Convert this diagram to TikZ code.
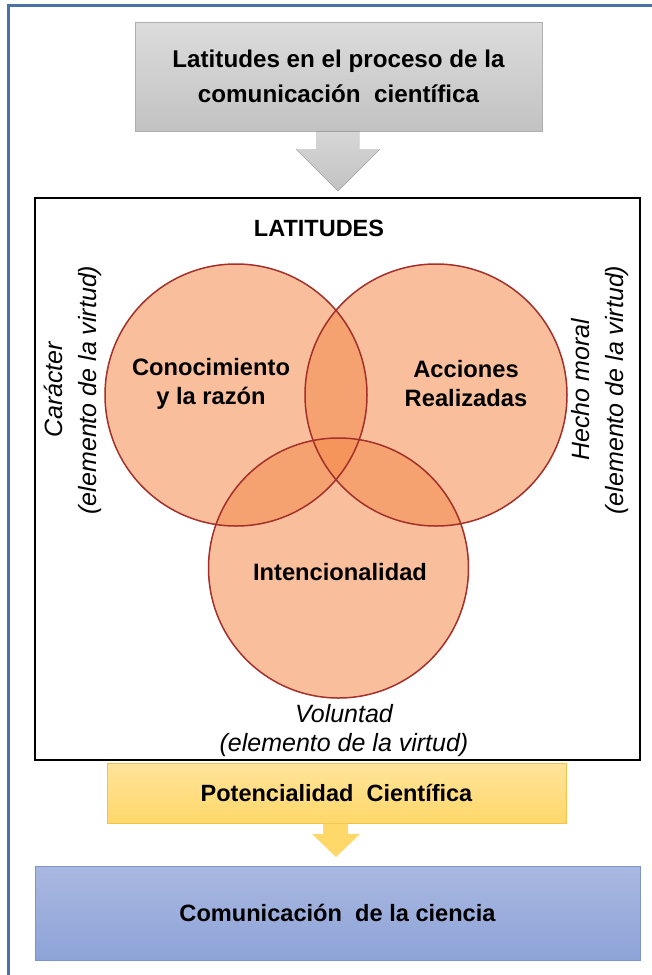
\documentclass[tikz,border=0pt]{standalone}
\usepackage{fontspec}
\setmainfont{Liberation Sans}
\definecolor{framec}{HTML}{4A72A8}
\definecolor{circfill}{HTML}{F58B4C}
\definecolor{circline}{HTML}{A3302A}
\definecolor{grayA}{HTML}{DCDCDC}
\definecolor{grayB}{HTML}{C2C2C2}
\definecolor{yelA}{HTML}{FFE39A}
\definecolor{yelB}{HTML}{FFD86A}
\definecolor{yelline}{HTML}{F2C24A}
\definecolor{bluA}{HTML}{AAB8E0}
\definecolor{bluB}{HTML}{8DA3D8}
\definecolor{bluline}{HTML}{7A95CE}
\begin{document}
\begin{tikzpicture}[x=1pt,y=-1pt,
  graybox/.style={rectangle, draw=grayB!90!black, line width=0.6pt, top color=grayA, bottom color=grayB, align=center, font=\fontsize{24.2}{35}\selectfont\bfseries},
  yelbox/.style={rectangle, draw=yelline, line width=0.8pt, top color=yelA, bottom color=yelB, align=center, font=\fontsize{23.5}{26}\selectfont\bfseries},
  blubox/.style={rectangle, draw=bluline, line width=0.8pt, top color=bluA, bottom color=bluB, align=center, font=\fontsize{23.6}{26}\selectfont\bfseries},
  venn/.style={circle, minimum size=#1, inner sep=0pt, fill=circfill, fill opacity=0.55},
  vennline/.style={circle, minimum size=#1, inner sep=0pt, draw=circline, line width=1.5pt},
  vtext/.style={align=center, font=\fontsize{23.7}{29}\selectfont\bfseries},
  itext/.style={align=center, font=\fontsize{25}{30}\selectfont\itshape},
]
\useasboundingbox (0,0) rectangle (652,975);
\fill[white] (0,0) rectangle (652,975);
% outer frame
\draw[framec, line width=3.5pt] (8.5,975) -- (8.5,5.5) -- (652,5.5);

% top box
\node[graybox, minimum width=407pt, minimum height=109pt] (top) at (338.5,76.5)
  {Latitudes en el proceso de la\\comunicación\ \ científica};
\fill[top color=grayA!80!grayB, bottom color=grayB] (316,131.3) -- (359,131.3) -- (359,149) -- (380,149) -- (338,191) -- (296,149) -- (316,149) -- cycle;

% main box
\node[draw=black, line width=2pt, minimum width=605pt, minimum height=562pt, inner sep=0pt] (main) at (337.5,479) {};
\node[font=\fontsize{23.5}{26}\selectfont\bfseries] (lat) at (319,228) {LATITUDES};

% Venn circles
\node[venn=262pt] (cA) at (236,395) {};
\node[venn=262pt] (cB) at (436,395) {};
\node[venn=260pt] (cC) at (338.5,568) {};
\node[vennline=262pt] at (cA) {};
\node[vennline=262pt] at (cB) {};
\node[vennline=260pt] at (cC) {};
\node[vtext] (tA) at (211,384) {Conocimiento\\y la razón};
\node[vtext] (tB) at (466,384) {Acciones\\Realizadas};
\node[vtext] (tC) at (340,572) {Intencionalidad};

% side labels
\node[itext, rotate=90, font=\fontsize{25}{34}\selectfont\itshape] (lCar) at (73,390) {Carácter\\(elemento de la virtud)};
\node[itext, rotate=90, font=\fontsize{25}{34}\selectfont\itshape] (lHec) at (600,390) {Hecho moral\\(elemento de la virtud)};
\node[itext, font=\fontsize{25}{29}\selectfont\itshape] (lVol) at (344,731) {Voluntad\\(elemento de la virtud)};

% potencialidad
\node[yelbox, minimum width=459pt, minimum height=60pt] (pot) at (336.5,793) {Potencialidad\ \ Científica};
\fill[yelB] (323,823.5) -- (348,823.5) -- (348,834) -- (360,834) -- (336,857) -- (312,834) -- (323,834) -- cycle;

% comunicacion
\node[blubox, minimum width=605pt, minimum height=94pt] (com) at (337.5,913) {Comunicación\ \ de la ciencia};
\end{tikzpicture}
\end{document}
